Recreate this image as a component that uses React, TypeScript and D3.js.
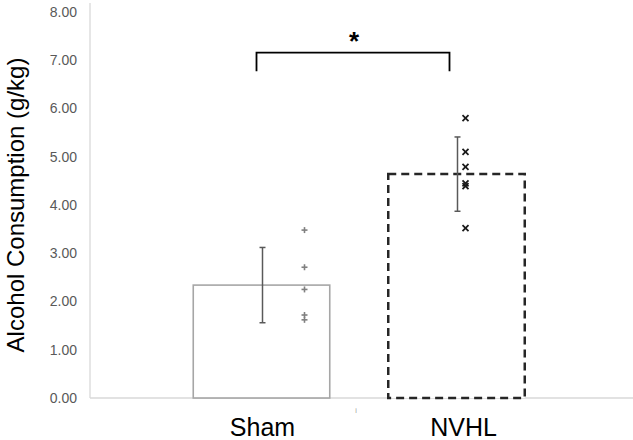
import * as d3 from "d3";

const groups = ["Sham", "NVHL"];
const means = [2.34, 4.64];
const errors = [0.78, 0.77];
const shamPoints = [3.48, 2.71, 2.25, 1.72, 1.62];
const nvhlPoints = [5.8, 5.1, 4.79, 4.45, 4.39, 3.52];
const yTicks = [0, 1, 2, 3, 4, 5, 6, 7, 8];
const yLabel = "Alcohol Consumption (g/kg)";
const sigMark = "*";

const width = 633;
const height = 440;
const font = "'Liberation Sans', Arial, Helvetica, sans-serif";

export default function App() {
  const x = d3.scaleBand().domain(groups).range([164, 554]).paddingInner(0.3).paddingOuter(0.15);
  const y = d3.scaleLinear().domain([0, 8]).range([398, 12]);
  const axisX = 90;
  const bw = x.bandwidth();

  // points sit a bit to the right of each bar's center
  const pointShift = { Sham: 43, NVHL: 9 };
  const cx = (g) => (x(g) ?? 0) + bw / 2;

  const bracketY = y(7.16);
  const bracketFoot = y(6.77);

  return (
    <svg
      width={width}
      height={height}
      style={{ position: "absolute", left: 0, top: 0, background: "#fff" }}
      fontFamily={font}
    >
      {/* axes */}
      <line x1={axisX} x2={axisX} y1={3} y2={y(0)} stroke="#d9d9d9" strokeWidth={1.3} />
      <line x1={axisX} x2={width} y1={y(0)} y2={y(0)} stroke="#d9d9d9" strokeWidth={1.3} />
      {yTicks.map((t) => (
        <text
          key={t}
          x={77}
          y={y(t)}
          dy="0.35em"
          textAnchor="end"
          fontSize={14}
          fill="#595959"
        >
          {d3.format(".2f")(t)}
        </text>
      ))}
      <text
        transform={`translate(24,${(y(0) + y(8)) / 2}) rotate(-90)`}
        textAnchor="middle"
        fontSize={24}
        fill="#000"
      >
        {yLabel}
      </text>

      {/* bars */}
      {groups.map((g, i) => {
        const dashed = g === "NVHL";
        return (
          <rect
            key={g}
            x={x(g)}
            y={y(means[i])}
            width={bw}
            height={y(0) - y(means[i])}
            fill="#fff"
            stroke={dashed ? "#262626" : "#a6a6a6"}
            strokeWidth={dashed ? 2.5 : 1.6}
            strokeDasharray={dashed ? "8 5" : undefined}
          />
        );
      })}

      {/* error bars */}
      {groups.map((g, i) => {
        const ex = cx(g) + 1;
        const top = y(means[i] + errors[i]);
        const bot = y(means[i] - errors[i]);
        return (
          <g key={g} stroke="#595959" strokeWidth={1.5}>
            <line x1={ex} x2={ex} y1={top} y2={bot} />
            <line x1={ex - 3} x2={ex + 3} y1={top} y2={top} />
            <line x1={ex - 3} x2={ex + 3} y1={bot} y2={bot} />
          </g>
        );
      })}

      {/* individual values */}
      {shamPoints.map((v, i) => {
        const px = cx("Sham") + pointShift.Sham;
        const py = y(v);
        return (
          <g key={`s${i}`} stroke="#808080" strokeWidth={1.6}>
            <line x1={px - 3} x2={px + 3} y1={py} y2={py} />
            <line x1={px} x2={px} y1={py - 3} y2={py + 3} />
          </g>
        );
      })}
      {nvhlPoints.map((v, i) => {
        const px = cx("NVHL") + pointShift.NVHL;
        const py = y(v);
        return (
          <g key={`n${i}`} stroke="#1a1a1a" strokeWidth={1.8}>
            <line x1={px - 3} x2={px + 3} y1={py - 3} y2={py + 3} />
            <line x1={px - 3} x2={px + 3} y1={py + 3} y2={py - 3} />
          </g>
        );
      })}

      {/* significance bracket */}
      <path
        d={`M${cx("Sham") - 5},${bracketFoot}V${bracketY}H${cx("NVHL") - 7}V${bracketFoot}`}
        fill="none"
        stroke="#000"
        strokeWidth={1.8}
      />
      <text x={(cx("Sham") + cx("NVHL")) / 2 - 5} y={50} textAnchor="middle" fontSize={26} fontWeight="bold">
        {sigMark}
      </text>

      {/* category labels */}
      {groups.map((g, i) => (
        <text key={g} x={cx(g) + (i === 1 ? 7 : 1)} y={436} textAnchor="middle" fontSize={25} fill="#000">
          {g}
        </text>
      ))}
      <text x={356} y={413} fontSize={7} fill="#999" textAnchor="middle">
        i
      </text>
    </svg>
  );
}
